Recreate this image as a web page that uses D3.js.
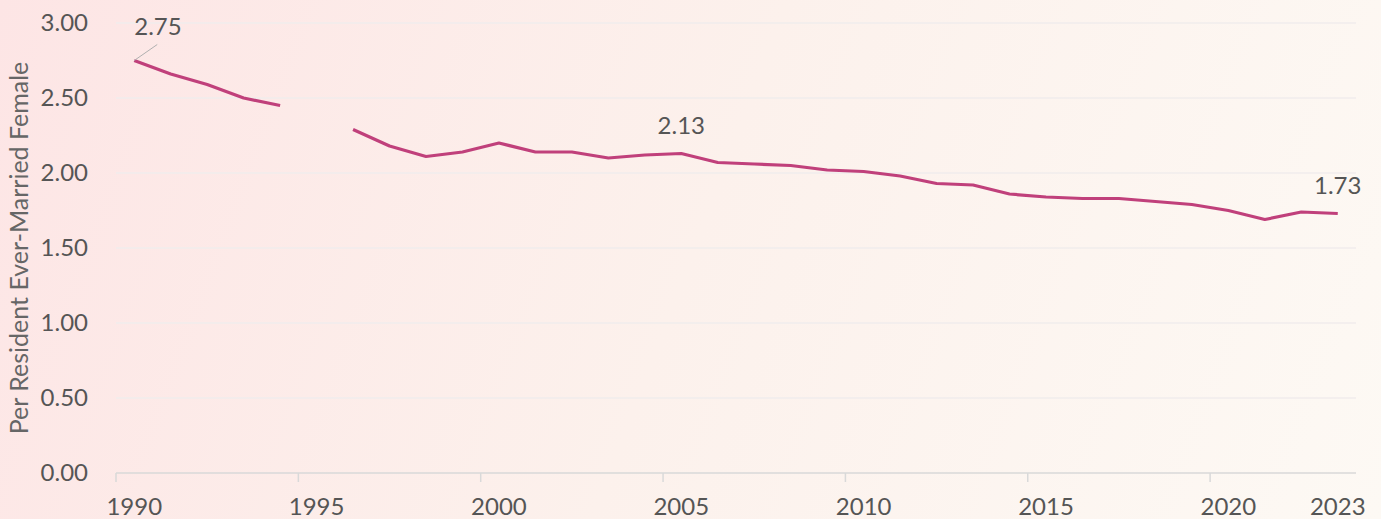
<!DOCTYPE html>
<html>
<head>
<meta charset="utf-8">
<script src="https://cdn.jsdelivr.net/npm/d3@7"></script>
<style>
  html, body { margin: 0; padding: 0; }
  body { width: 1381px; height: 519px; overflow: hidden; }
  svg { display: block; font-family: Lato, "Open Sans", sans-serif; }
</style>
</head>
<body>
<svg id="chart"></svg>
<script>
// years of the series (1995 has no value, the line breaks there)
const years = [1990, 1991, 1992, 1993, 1994, 1995, 1996, 1997, 1998, 1999,
    2000, 2001, 2002, 2003, 2004, 2005, 2006, 2007, 2008, 2009,
    2010, 2011, 2012, 2013, 2014, 2015, 2016, 2017, 2018, 2019,
    2020, 2021, 2022, 2023];
const values = [2.75, 2.66, 2.59, 2.50, 2.45, null, 2.29, 2.18, 2.11, 2.14,
    2.20, 2.14, 2.14, 2.10, 2.12, 2.13, 2.07, 2.06, 2.05, 2.02,
    2.01, 1.98, 1.93, 1.92, 1.86, 1.84, 1.83, 1.83, 1.81, 1.79,
    1.75, 1.69, 1.74, 1.73];
const yTicks = [0, 0.5, 1, 1.5, 2, 2.5, 3];
const xTicks = [1990, 1995, 2000, 2005, 2010, 2015, 2020];
const xLabels = [1990, 1995, 2000, 2005, 2010, 2015, 2020, 2023];
const labelYears = [1990, 2005, 2023];
const yTitle = "Per Resident Ever-Married Female";

function draw() {
    let width = 1381,
        height = 519;
    let svg = d3.select("#chart")
        .attr("width", width)
        .attr("height", height);

    // soft pink to cream background
    let defs = svg.append("defs");
    let grad = defs.append("linearGradient").attr("id", "bg")
        .attr("gradientUnits", "userSpaceOnUse")
        .attr("x1", 0).attr("y1", 0).attr("x2", width).attr("y2", height);
    grad.append("stop").attr("offset", "0%").attr("stop-color", "#fde5e5");
    grad.append("stop").attr("offset", "50%").attr("stop-color", "#fcf1ec");
    grad.append("stop").attr("offset", "100%").attr("stop-color", "#fdf9f4");
    svg.append("rect").attr("width", width).attr("height", height).attr("fill", "url(#bg)");

    let x = d3.scaleLinear().domain([1990, 2024]).range([116, 1356]);
    let y = d3.scaleLinear().domain([0, 3]).range([473, 23]);

    // gridlines
    svg.append("g").selectAll("line")
        .data(yTicks.slice(1))
        .join("line")
        .attr("x1", x.range()[0])
        .attr("x2", x.range()[1])
        .attr("y1", d => y(d))
        .attr("y2", d => y(d))
        .attr("stroke", "#f1ecec")
        .attr("stroke-width", 1.5);

    // y axis labels
    svg.append("g").selectAll("text")
        .data(yTicks)
        .join("text")
        .attr("x", 88)
        .attr("y", d => y(d))
        .attr("dy", "0.35em")
        .attr("text-anchor", "end")
        .attr("fill", "#555")
        .style("font-size", "24px")
        .text(d => d3.format(".2f")(d));

    // x axis: ticks at year starts, labels centred in each year
    let xAxis = svg.append("g").attr("transform", `translate(0,${y(0)})`);
    xAxis.append("line")
        .attr("x1", x.range()[0]).attr("x2", x.range()[1])
        .attr("stroke", "#d9d9d9").attr("stroke-width", 1.5);
    xAxis.selectAll("line.tick")
        .data(xTicks)
        .join("line")
        .attr("class", "tick")
        .attr("x1", d => x(d)).attr("x2", d => x(d))
        .attr("y1", 0).attr("y2", 9)
        .attr("stroke", "#d9d9d9").attr("stroke-width", 1.5);
    xAxis.selectAll("text")
        .data(xLabels)
        .join("text")
        .attr("x", d => x(d + 0.5))
        .attr("y", 42)
        .attr("text-anchor", "middle")
        .attr("fill", "#555")
        .style("font-size", "24px")
        .text(d => d);

    // y title
    svg.append("text")
        .attr("transform", `translate(28,${(y(0) + y(3)) / 2}) rotate(-90)`)
        .attr("text-anchor", "middle")
        .attr("fill", "#666")
        .style("font-size", "25px")
        .text(yTitle);

    let data = years.map((yr, i) => ({year: yr, value: values[i]}));

    let line = d3.line()
        .defined(d => d.value != null)
        .x(d => x(d.year + 0.5))
        .y(d => y(d.value));

    svg.append("path")
        .datum(data)
        .attr("fill", "none")
        .attr("stroke", "#c0407b")
        .attr("stroke-width", 3.2)
        .attr("stroke-linejoin", "round")
        .attr("d", line);

    // value labels
    let labels = data.filter(d => labelYears.includes(d.year));
    labels.forEach(function (d) {
        let px = x(d.year + 0.5), py = y(d.value);
        if (d.year === 1990) {
            svg.append("line")
                .attr("x1", px).attr("y1", py)
                .attr("x2", px + 23).attr("y2", py - 16)
                .attr("stroke", "#b0b0b0").attr("stroke-width", 1);
            svg.append("text")
                .attr("x", px).attr("y", py - 26)
                .attr("fill", "#555").style("font-size", "24px")
                .text(d3.format(".2f")(d.value));
        } else {
            svg.append("text")
                .attr("x", px)
                .attr("y", py - 20)
                .attr("text-anchor", "middle")
                .attr("fill", "#555").style("font-size", "24px")
                .text(d3.format(".2f")(d.value));
        }
    });
}

draw();
</script>
</body>
</html>
